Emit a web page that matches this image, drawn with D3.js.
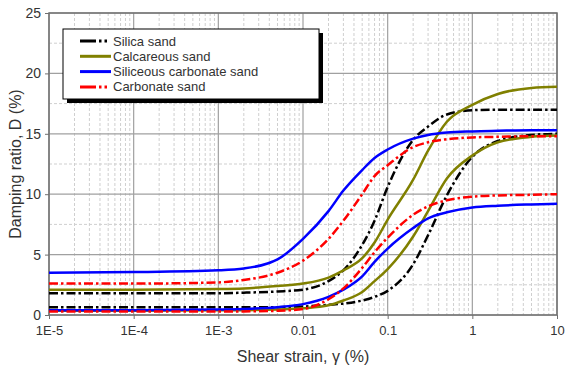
<!DOCTYPE html>
<html lang="en">
<head>
  <meta charset="UTF-8">
  <title>Damping ratio vs shear strain</title>
  <script src="https://cdn.jsdelivr.net/npm/d3@7"></script>
  <style>
    body { margin: 0; background: #fff; font-family: Arial, "Liberation Sans", sans-serif; }
    svg text { fill: #333; }
  </style>
</head>
<body>
  <svg id="chart" width="570" height="372"></svg>

  <script>
    // shear strain (%), shared by all curves
    const strain = [1e-5, 1e-4, 1e-3, 2e-3, 5e-3, 0.01, 0.02, 0.03, 0.05, 0.07, 0.1, 0.2, 0.3, 0.5, 1, 2, 5, 10];

    // damping ratio D (%) - upper and lower bound per material
    const silicaUpper  = [1.8, 1.8, 1.8, 1.85, 1.95, 2.1, 2.8, 3.7, 5.8, 7.8, 10.6, 14.5, 15.6, 16.6, 16.95, 17.0, 17.0, 17.0];
    const silicaLower  = [0.65, 0.65, 0.65, 0.65, 0.65, 0.7, 0.85, 0.95, 1.2, 1.5, 2.0, 4.2, 6.6, 9.9, 13.1, 14.4, 14.9, 15.0];
    const calcUpper    = [2.1, 2.1, 2.15, 2.2, 2.4, 2.6, 3.1, 3.7, 4.7, 6.0, 7.9, 11.2, 13.6, 16.0, 17.4, 18.3, 18.8, 18.9];
    const calcLower    = [0.35, 0.35, 0.4, 0.4, 0.45, 0.55, 0.8, 1.2, 1.9, 2.8, 3.8, 6.5, 8.6, 11.3, 13.2, 14.3, 14.75, 14.85];
    const silCarbUpper = [3.5, 3.55, 3.7, 3.85, 4.6, 6.3, 8.6, 10.3, 12.0, 13.0, 13.7, 14.6, 14.9, 15.1, 15.2, 15.25, 15.3, 15.3];
    const silCarbLower = [0.4, 0.4, 0.45, 0.5, 0.65, 0.9, 1.5, 2.1, 3.2, 4.4, 5.5, 7.2, 8.0, 8.5, 8.9, 9.05, 9.15, 9.2];
    const carbUpper    = [2.6, 2.6, 2.7, 2.9, 3.5, 4.5, 6.3, 7.8, 10.0, 11.5, 12.4, 13.9, 14.3, 14.55, 14.7, 14.75, 14.8, 14.8];
    const carbLower    = [0.3, 0.3, 0.3, 0.3, 0.35, 0.5, 1.3, 2.2, 3.9, 5.2, 6.4, 8.3, 9.0, 9.5, 9.8, 9.9, 9.95, 10.0];

    const seriesNames  = ["Silica sand", "Calcareous sand", "Siliceous carbonate sand", "Carbonate sand"];
    const seriesColors = ["#000000", "#808000", "#0000ff", "#ff0000"];
    const seriesDashed = [true, false, false, true];
    const seriesBounds = [
      [silicaUpper, silicaLower],
      [calcUpper, calcLower],
      [silCarbUpper, silCarbLower],
      [carbUpper, carbLower]
    ];

    const xTickValues = [1e-5, 1e-4, 1e-3, 0.01, 0.1, 1, 10];
    const xTickLabels = ["1E-5", "1E-4", "1E-3", "0.01", "0.1", "1", "10"];
    const yTickValues = [0, 5, 10, 15, 20, 25];

    const svg = d3.select("#chart");
    const m = { left: 49, top: 13, right: 557, bottom: 315 };

    const x = d3.scaleLog().domain([1e-5, 10]).range([m.left, m.right]);
    const y = d3.scaleLinear().domain([0, 25]).range([m.bottom, m.top]);

    // minor grid
    const minorX = [];
    for (let e = -5; e < 1; e++) for (let k = 2; k < 10; k++) minorX.push(k * Math.pow(10, e));
    const minorY = d3.range(2.5, 25, 5);

    const grid = svg.append("g");
    grid.selectAll(".mx").data(minorX).join("line")
      .attr("x1", d => x(d)).attr("x2", d => x(d))
      .attr("y1", m.top).attr("y2", m.bottom)
      .attr("stroke", "#cfcfcf").attr("stroke-dasharray", "3,2").attr("stroke-width", 1);
    grid.selectAll(".my").data(minorY).join("line")
      .attr("x1", m.left).attr("x2", m.right)
      .attr("y1", d => y(d)).attr("y2", d => y(d))
      .attr("stroke", "#cfcfcf").attr("stroke-dasharray", "3,2").attr("stroke-width", 1);
    grid.selectAll(".gx").data(xTickValues).join("line")
      .attr("x1", d => x(d)).attr("x2", d => x(d))
      .attr("y1", m.top).attr("y2", m.bottom)
      .attr("stroke", "#a0a0a0").attr("stroke-width", 1.2);
    grid.selectAll(".gy").data(yTickValues).join("line")
      .attr("x1", m.left).attr("x2", m.right)
      .attr("y1", d => y(d)).attr("y2", d => y(d))
      .attr("stroke", "#a0a0a0").attr("stroke-width", 1.2);

    // frame
    svg.append("rect")
      .attr("x", m.left).attr("y", m.top)
      .attr("width", m.right - m.left).attr("height", m.bottom - m.top)
      .attr("fill", "none").attr("stroke", "#707070").attr("stroke-width", 1.5);

    // axes
    const xAxis = d3.axisBottom(x).tickValues(xTickValues)
      .tickFormat((d, i) => xTickLabels[i]).tickSize(4).tickPadding(4);
    const gx = svg.append("g").attr("transform", `translate(0,${m.bottom})`).call(xAxis);
    gx.select(".domain").remove();
    gx.selectAll("line").attr("stroke", "#707070");
    gx.selectAll("text").style("font-size", "13px").attr("dy", "0.95em").attr("fill", "#333");

    const yAxis = d3.axisLeft(y).tickValues(yTickValues).tickSize(4).tickPadding(4);
    const gy = svg.append("g").attr("transform", `translate(${m.left},0)`).call(yAxis);
    gy.select(".domain").remove();
    gy.selectAll("line").attr("stroke", "#707070");
    gy.selectAll("text").style("font-size", "14px").attr("fill", "#333");

    svg.append("text")
      .attr("x", (m.left + m.right) / 2).attr("y", 362)
      .attr("text-anchor", "middle").style("font-size", "16px")
      .text("Shear strain, γ (%)");
    svg.append("text")
      .attr("transform", "translate(21,164) rotate(-90)")
      .attr("text-anchor", "middle").style("font-size", "16px")
      .text("Damping ratio, D (%)");

    // curves
    const line = d3.line()
      .x(d => x(d[0])).y(d => y(d[1]))
      .curve(d3.curveMonotoneX);

    const curves = [];
    seriesBounds.forEach((pair, i) => {
      pair.forEach(vals => curves.push({ i, pts: strain.map((s, j) => [s, vals[j]]) }));
    });

    svg.append("g").selectAll("path").data(curves).join("path")
      .attr("d", d => line(d.pts))
      .attr("fill", "none")
      .attr("stroke", d => seriesColors[d.i])
      .attr("stroke-width", 2.5)
      .attr("stroke-dasharray", d => seriesDashed[d.i] ? "9,3,2.5,3" : null);

    // legend
    const lg = svg.append("g");
    lg.append("rect").attr("x", 67).attr("y", 33).attr("width", 256).attr("height", 70).attr("fill", "#000");
    lg.append("rect").attr("x", 63).attr("y", 29).attr("width", 256).attr("height", 70)
      .attr("fill", "#fff").attr("stroke", "#000").attr("stroke-width", 1);

    const items = lg.selectAll(".item").data(seriesNames).join("g")
      .attr("transform", (d, i) => `translate(0,${41 + i * 15.3})`);
    items.append("line")
      .attr("x1", 80).attr("x2", 111).attr("y1", 0).attr("y2", 0)
      .attr("stroke", (d, i) => seriesColors[i]).attr("stroke-width", 3)
      .attr("stroke-dasharray", (d, i) => seriesDashed[i] ? "16,3,2.5,3,2.5,10" : null);
    items.append("text")
      .attr("x", 113).attr("y", 0).attr("dy", "0.35em")
      .style("font-size", "13px")
      .text(d => d);
  </script>
</body>
</html>
